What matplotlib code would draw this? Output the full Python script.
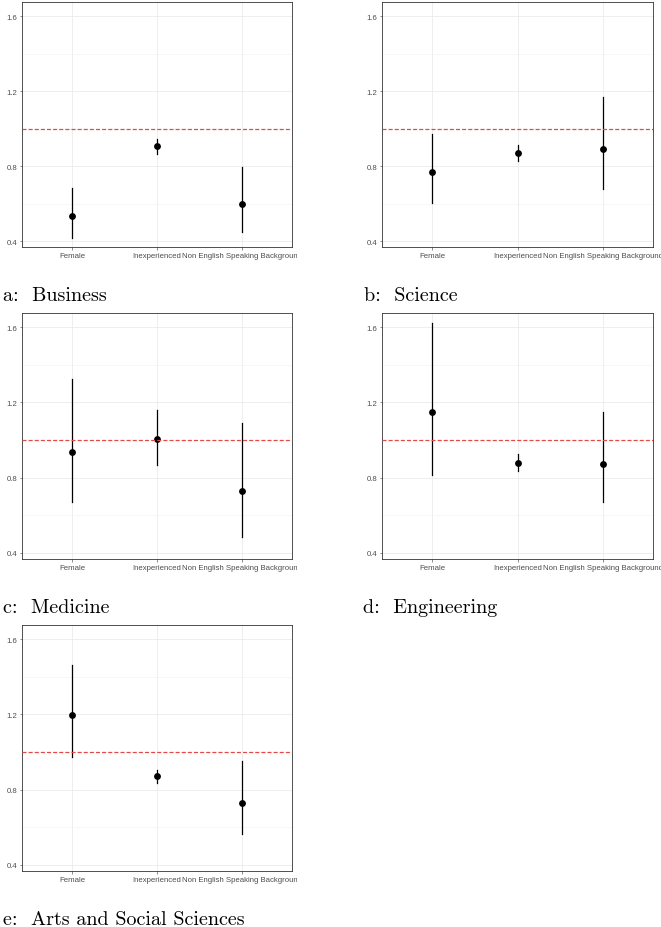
import matplotlib
matplotlib.use("Agg")
import matplotlib.pyplot as plt
from matplotlib.transforms import Bbox, TransformedBbox

categories = ["Female", "Inexperienced", "Non English Speaking Background"]

panels = ["a:  Business", "b:  Science", "c:  Medicine", "d:  Engineering",
          "e:  Arts and Social Sciences"]

# point estimate, lower and upper bound for each panel
business_est = [0.535, 0.906, 0.596]
business_lo = [0.417, 0.865, 0.446]
business_hi = [0.684, 0.946, 0.795]

science_est = [0.767, 0.869, 0.892]
science_lo = [0.604, 0.827, 0.677]
science_hi = [0.969, 0.912, 1.170]

medicine_est = [0.938, 1.003, 0.728]
medicine_lo = [0.669, 0.866, 0.484]
medicine_hi = [1.322, 1.160, 1.090]

engineering_est = [1.150, 0.880, 0.872]
engineering_lo = [0.816, 0.833, 0.670]
engineering_hi = [1.621, 0.928, 1.148]

arts_est = [1.195, 0.871, 0.731]
arts_lo = [0.975, 0.835, 0.563]
arts_hi = [1.464, 0.907, 0.951]

ests = [business_est, science_est, medicine_est, engineering_est, arts_est]
los = [business_lo, science_lo, medicine_lo, engineering_lo, arts_lo]
his = [business_hi, science_hi, medicine_hi, engineering_hi, arts_hi]

yticks = [0.4, 0.8, 1.2, 1.6]
yminor = [0.6, 1.0, 1.4]

W, H = 661, 928
fig = plt.figure(figsize=(W / 100, H / 100), dpi=100)

# axes boxes in pixels: left, top, right, bottom
boxes = [(22, 3, 292, 248), (382, 3, 653, 248),
         (22, 314, 292, 560), (382, 314, 653, 560),
         (22, 626, 292, 872)]
caps = [(3, 301), (364, 301), (3, 613), (363, 613), (3, 925)]
clip_right = [297, 661, 297, 661, 297]

grey20 = "#333333"
tickgrey = "#4d4d4d"

for i in range(5):
    l, t, r, b = boxes[i]
    ax = fig.add_axes([l / W, 1 - b / H, (r - l) / W, (b - t) / H])
    x = [1, 2, 3]
    for j in range(3):
        ax.plot([x[j], x[j]], [los[i][j], his[i][j]], color="black",
                lw=0.9, zorder=3)
    ax.plot(x, ests[i], "o", color="black", ms=3.9, zorder=4)
    ax.axhline(1.0, color="#e54848", lw=0.9, ls=(0, (3.2, 1.7)), zorder=5)

    ax.set_xlim(0.41, 3.59)
    ax.set_ylim(0.368, 1.675)
    ax.set_xticks(x)
    ax.set_xticklabels(categories)
    ax.set_yticks(yticks)
    ax.set_yticklabels([str(v) for v in yticks])
    ax.set_yticks(yminor, minor=True)
    ax.tick_params(which="minor", left=False)
    ax.grid(which="major", color="#ebebeb", lw=0.6)
    ax.grid(which="minor", axis="y", color="#f2f2f2", lw=0.4)
    ax.set_axisbelow(True)
    ax.tick_params(which="major", length=1.8, width=0.4, color=grey20,
                   labelsize=5.6, labelcolor=tickgrey, pad=1.5)
    for lab in ax.get_xticklabels() + ax.get_yticklabels():
        lab.set_fontfamily("Liberation Sans")
    for s in ax.spines.values():
        s.set_color(grey20)
        s.set_linewidth(0.6)

    clip = TransformedBbox(Bbox([[0, 0], [clip_right[i] / W, 1]]), fig.transFigure)
    for tk in ax.xaxis.get_major_ticks():
        tk.label1.set_clip_box(clip)
        tk.label1.set_clip_on(True)

    cx, cy = caps[i]
    fig.text(cx / W, 1 - cy / H, panels[i], fontfamily="cmr10", fontsize=14.5,
             va="baseline", ha="left")

fig.savefig("out.png", dpi=100)
